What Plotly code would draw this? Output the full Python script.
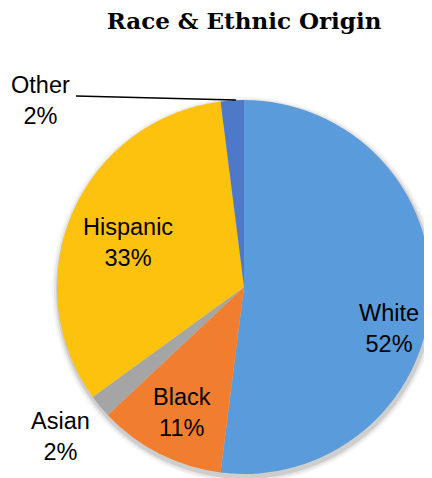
import plotly.graph_objects as go

# ---- data ----
categories = ["White", "Black", "Asian", "Hispanic", "Other"]
values = [52, 11, 2, 33, 2]
colors = ["#5A9BDB", "#F07E2E", "#A5A5A5", "#FDC20E", "#4E79C9"]
title_text = "Race & Ethnic Origin"

# the page body has an 8px margin; figure is sized to fit the window
OFF = 8
W, H = 432 - OFF, 478 - OFF
cx, cy, R = 244, 287, 187  # screenshot pixel coordinates
M_T = cy - R - OFF
M_B = H - (cy + R - OFF)
plot_h = H - M_T - M_B


def px2paper(x, y):
    x -= OFF
    y -= OFF
    return x / W, (H - M_B - y) / plot_h


fig = go.Figure()
fig.add_trace(go.Pie(
    labels=categories,
    values=values,
    marker=dict(colors=colors, line=dict(width=0)),
    sort=False,
    direction="clockwise",
    rotation=0,
    textinfo="none",
    hoverinfo="label+percent",
    domain=dict(x=[(cx - R - OFF) / W, (cx + R - OFF) / W], y=[0, 1]),
    showlegend=False,
))

# soft shadow
shapes = []
for grow, op in [(6, 0.04), (4, 0.06), (2, 0.10)]:
    x0, y0 = px2paper(cx - R - grow + 1, cy - R - grow + 3)
    x1, y1 = px2paper(cx + R + grow + 1, cy + R + grow + 3)
    shapes.append(dict(type="circle", xref="paper", yref="paper", x0=x0, x1=x1,
                       y0=y1, y1=y0, fillcolor=f"rgba(0,0,0,{op})",
                       line=dict(width=0), layer="below"))
# leader line for "Other"
lx0, ly0 = px2paper(76, 96)
lx1, ly1 = px2paper(236, 100)
shapes.append(dict(type="line", xref="paper", yref="paper", x0=lx0, y0=ly0,
                   x1=lx1, y1=ly1, line=dict(color="black", width=1.3)))

label_pos = {"White": (389, 328), "Black": (182, 412), "Asian": (60, 436),
             "Hispanic": (128, 242), "Other": (40, 100)}
annotations = []
total = sum(values)
for c, v in zip(categories, values):
    px, py = label_pos[c]
    ax, ay = px2paper(px, py)
    annotations.append(dict(
        x=ax, y=ay, xref="paper", yref="paper", showarrow=False,
        text=f"{c}<br>{round(100 * v / total)}%",
        font=dict(family="Liberation Sans, Arial, sans-serif", size=23.5, color="black"),
        xanchor="center", yanchor="middle", align="center"))

fig.update_layout(
    width=W, height=H,
    margin=dict(l=0, r=0, t=M_T, b=M_B),
    paper_bgcolor="white", plot_bgcolor="white",
    title=dict(text=f"<b>{title_text}</b>", x=(cx - OFF) / W, xanchor="center",
               y=1 - 13 / H, yanchor="middle", yref="container",
               font=dict(family="DejaVu Serif, serif", size=23, color="black")),
    shapes=shapes,
    annotations=annotations,
)

fig.write_html("out.html")
